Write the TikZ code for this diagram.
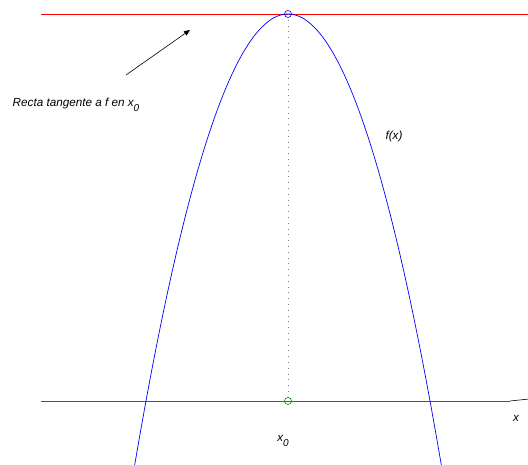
\documentclass[tikz,border=0pt]{standalone}
\usepackage{fontspec}
\setmainfont{Liberation Sans}
\usepackage{tikz}
\usetikzlibrary{arrows.meta,positioning}

\newcommand{\sub}[1]{\raisebox{-4.5pt}{\fontsize{10}{11}\selectfont #1}}

\begin{document}
\begin{tikzpicture}[
    x=1pt, y=-1pt,
    font=\fontsize{11.7}{13}\selectfont\itshape,
    lbl/.style={inner sep=1pt},
    marker/.style={draw, circle, inner sep=0pt, minimum size=7pt, line width=0.6pt},
    arr/.style={-{Triangle[length=6pt, width=5pt]}, line width=0.6pt}]
  \useasboundingbox (0,0) rectangle (528,464);
  \clip (0,0) rectangle (528,464);
  \coordinate (x0) at (288,401);
  \coordinate (top) at (288,14);
  % tangent and axis
  \draw[red, line width=0.8pt] (41,14) -- (528,14);
  \draw[green!55!black, line width=0.8pt] (41,401) -- (510,401);
  \coordinate (xstart) at (510,401);
  \coordinate (xtip) at (548,397);
  \draw[arr] (xstart) -- (xtip);
  \draw[gray, dash pattern=on 0.8pt off 5pt, line width=0.7pt] (top) -- (x0);
  % parabola
  \draw[blue, line width=0.7pt] plot[domain=-160:160, samples=161] ({288+\x}, {14+(\x/7.219)^2});
  \node[marker, blue] (peak) at (top) {};
  \node[marker, green!55!black] (root) at (x0) {};
  % labels
  \node[lbl] (tangent) at (76,105) {Recta tangente a f en x\sub{0}};
  \node[lbl] (fx) at (394,136) {f(x)};
  \node[lbl] (xlab) at (516,418) {x};
  \node[lbl] (x0lab) at (283,441) {x\sub{0}};
  \coordinate (tail) at (126,75);
  \coordinate (head) at (190,30);
  \draw[arr] (tail) -- (head);
\end{tikzpicture}
\end{document}
